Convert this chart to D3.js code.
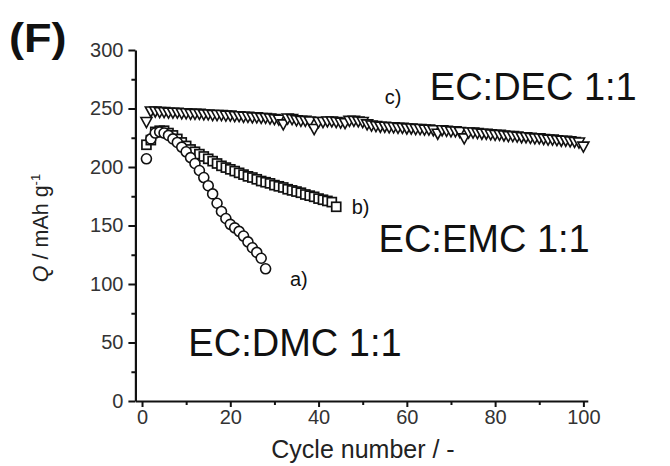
<!DOCTYPE html>
<html><head><meta charset="utf-8">
<script src="https://cdn.jsdelivr.net/npm/d3@7"></script>
<style>html,body{margin:0;padding:0;background:#fff;}svg{display:block;}</style>
</head><body>
<svg id="c" width="670" height="466"></svg>
<script>
// ---- data ----
const xTicks = [0, 20, 40, 60, 80, 100];
const xMinorTicks = [10, 30, 50, 70, 90];
const yTicks = [0, 50, 100, 150, 200, 250, 300];
const yMinorTicks = [25, 75, 125, 175, 225, 275];

// a) EC:DMC 1:1 (circles)
const cyclesA = d3.range(1, 29);
const valuesA = [207,224,229,230,229,227,224,221,217,213,208,203,197,191,184,177,169,162,156,151,148,145,141,136,131,127,122,113];

// b) EC:EMC 1:1 (squares)
const cyclesB = d3.range(1, 45);
const valuesB = [219,223,230,231,231,229,227,224,221,218,215,213,211,209,207,205,203,201,199.5,198,196.5,195,193.5,192,191,189.5,188,187,186,184.5,183.5,182.5,181,180,179,178,176.5,175.5,174.5,173,172,171,170,166];

// c) EC:DEC 1:1 (triangles)
const cyclesC = d3.range(1, 101);
const valuesC = [238,247,247,246.5,246.5,246,246,246,245.5,245.5,
 245,245,245,244.5,244.5,244,244,244,243.5,243.5,
 243,243,242.5,242.5,242,242,241.5,241.5,241,240.5,
 240,236,241,240.5,239.5,239,239,238.5,232,238,
 238,238.5,238.5,238,237.5,237,239,239,238.5,238,
 236,235,234.5,234,234,233.5,233.5,233,233,232.5,
 232.5,232,232,231.5,231.5,231,228,231,230.5,230,
 230,229.5,224,229,229,228.5,228,228,227.5,227,
 227,226.5,226,226,225.5,225,225,224.5,224,224,
 223.5,223,223,222.5,222,222,221.5,221,220.5,217];

const labels = [
  {text: "c)", x: 55, y: 254, size: 20},
  {text: "EC:DEC 1:1", x: 65.2, y: 257, size: 38},
  {text: "b)", x: 47.5, y: 160, size: 20},
  {text: "EC:EMC 1:1", x: 53.6, y: 127.5, size: 38},
  {text: "a)", x: 33.5, y: 98.5, size: 20},
  {text: "EC:DMC 1:1", x: 10.5, y: 38.5, size: 38}
];

// ---- drawing ----
const svg = d3.select("#c");
const font = "'Liberation Sans', Arial, Helvetica, sans-serif";
const x = d3.scaleLinear().domain([-1.5, 101]).range([135.4, 587.8]);
const y = d3.scaleLinear().domain([0, 300]).range([401, 50]);

// panel label
svg.append("text").attr("transform", "translate(9,52) scale(1.1,1)").attr("font-family", font)
  .attr("font-weight", "bold").attr("font-size", 41).attr("fill", "#111").text("(F)");

// axes
function styleAxis(g) {
  g.select(".domain").attr("stroke", "#111").attr("stroke-width", 2.2);
  g.selectAll(".tick line").attr("stroke", "#111").attr("stroke-width", 2);
  g.selectAll(".tick text").attr("font-family", font).attr("font-size", 20).attr("fill", "#333");
}
const gx = svg.append("g").attr("transform", `translate(0,${y(0)})`)
  .call(d3.axisBottom(x).tickValues(xTicks).tickSize(6).tickSizeOuter(0).tickPadding(3));
styleAxis(gx);
const gxm = svg.append("g").attr("transform", `translate(0,${y(0)})`)
  .call(d3.axisBottom(x).tickValues(xMinorTicks).tickSize(4).tickFormat(""));
gxm.select(".domain").remove();
gxm.selectAll(".tick line").attr("stroke", "#111").attr("stroke-width", 2);

const gy = svg.append("g").attr("transform", `translate(${x(-1.5)},0)`)
  .call(d3.axisLeft(y).tickValues(yTicks).tickSize(7).tickSizeOuter(0).tickPadding(5));
styleAxis(gy);
const gym = svg.append("g").attr("transform", `translate(${x(-1.5)},0)`)
  .call(d3.axisLeft(y).tickValues(yMinorTicks).tickSize(4).tickFormat(""));
gym.select(".domain").remove();
gym.selectAll(".tick line").attr("stroke", "#111").attr("stroke-width", 2);

// axis titles
svg.append("text").attr("x", 363).attr("y", 458).attr("text-anchor", "middle")
  .attr("font-family", font).attr("font-size", 25).attr("fill", "#222").text("Cycle number / -");
const yt = svg.append("text").attr("transform", "translate(48,228) rotate(-90)")
  .attr("text-anchor", "middle").attr("font-family", font).attr("font-size", 21.5).attr("fill", "#222");
yt.append("tspan").attr("font-style", "italic").text("Q");
yt.append("tspan").text(" / mAh g");
yt.append("tspan").attr("font-size", 13).attr("dy", -8).text("-1");

// markers
const plot = svg.append("g");
const triDown = "M-5.5,-5L5.5,-5L0,5Z";
plot.selectAll(".tri").data(cyclesC.map((c, i) => [c, valuesC[i]])).join("path")
  .attr("d", triDown).attr("transform", d => `translate(${x(d[0])},${y(d[1])})`)
  .attr("fill", "#fff").attr("stroke", "#111").attr("stroke-width", 1.6);
plot.selectAll(".sq").data(cyclesB.map((c, i) => [c, valuesB[i]])).join("rect")
  .attr("x", d => x(d[0]) - 4.5).attr("y", d => y(d[1]) - 4.5).attr("width", 9).attr("height", 9)
  .attr("fill", "#fff").attr("stroke", "#111").attr("stroke-width", 1.7);
plot.selectAll(".ci").data(cyclesA.map((c, i) => [c, valuesA[i]])).join("circle")
  .attr("cx", d => x(d[0])).attr("cy", d => y(d[1])).attr("r", 5)
  .attr("fill", "#fff").attr("stroke", "#111").attr("stroke-width", 1.6);

// annotations
svg.selectAll(".lab").data(labels).join("text")
  .attr("x", d => x(d.x)).attr("y", d => y(d.y))
  .attr("font-family", font).attr("font-size", d => d.size).attr("fill", "#111")
  .text(d => d.text);
</script>
</body></html>
